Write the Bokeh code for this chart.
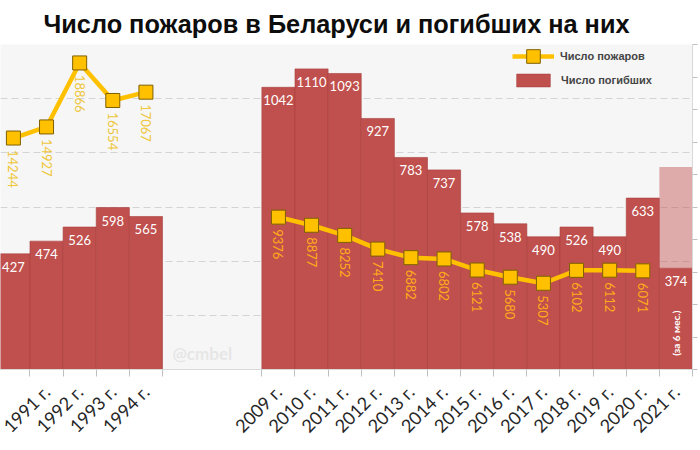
import math
from bokeh.plotting import figure
from bokeh.models import (ColumnDataSource, Range1d, FixedTicker, Legend,
                          LegendItem, Label, LinearAxis)
from bokeh.core.properties import value
from bokeh.embed import file_html
from bokeh.resources import INLINE

# ---------------- data ----------------
title_text = "Число пожаров в Беларуси и погибших на них"
legend_fires = "Число пожаров"
legend_deaths = "Число погибших"
watermark_text = "@cmbel"
year_suffix = " г."
partial_note = "(за 6 мес.)"

years_early = [1990, 1991, 1992, 1993, 1994]
deaths_early = [427, 474, 526, 598, 565]
fires_early = [14244, 14927, 18866, 16554, 17067]

years_late = [2009, 2010, 2011, 2012, 2013, 2014, 2015, 2016, 2017, 2018,
              2019, 2020, 2021]
deaths_late = [1042, 1110, 1093, 927, 783, 737, 578, 538, 490, 526, 490,
               633, 374]
fires_late = [9376, 8877, 8252, 7410, 6882, 6802, 6121, 5680, 5307, 6102,
              6112, 6071]          # 2021: no value
deaths_2021_full_estimate = [748]  # pale part of the 2021 bar

# ---------------- layout helpers ----------------
gap_slots = 3
x_early = list(range(len(years_early)))
x_late = [len(years_early) + gap_slots + i for i in range(len(years_late))]
x_all = x_early + x_late
years_all = years_early + years_late
deaths_all = deaths_early + deaths_late

RED = "#c0504d"
GOLD = "#ffc000"

p = figure(width=700, height=450, output_backend="svg", toolbar_location=None,
           x_range=Range1d(-0.39, x_late[-1] + 0.5), y_range=Range1d(0, 1200),
           min_border_left=0, min_border_right=8, min_border_top=43,
           min_border_bottom=81, background_fill_color="#f6f6f6",
           border_fill_color="white", outline_line_color=None)
p.extra_y_ranges = {"fires": Range1d(0, 20000)}

# title
p.title.text = title_text
p.title.text_font = "Liberation Sans"
p.title.text_font_style = "bold"
p.title.text_font_size = "25.3px"
p.title.text_color = "#0d0d0d"
p.title.align = "left"
p.title.offset = 43
p.title.standoff = 14

# grid
p.yaxis.visible = False
p.yaxis.ticker = FixedTicker(ticks=[0, 200, 400, 600, 800, 1000, 1200])
p.ygrid.grid_line_color = "#d4d4d4"
p.ygrid.grid_line_dash = "7 4"
p.xgrid.visible = False

# right axis (ticks only; its labels lie outside the picture)
r_ticks = list(range(0, 20001, 2000))
ax_r = LinearAxis(y_range_name="fires", ticker=FixedTicker(ticks=r_ticks))
ax_r.major_label_overrides = {t: "" for t in r_ticks}
ax_r.major_label_standoff = 0
ax_r.major_tick_out = 5
ax_r.major_tick_in = 0
ax_r.minor_tick_line_color = None
ax_r.major_tick_line_color = "#bfbfbf"
ax_r.axis_line_color = "#d9d9d9"
p.add_layout(ax_r, "right")

# x axis
boundaries = [x - 0.5 for x in x_early] + [x_early[-1] + 0.5] + \
             [x - 0.5 for x in x_late] + [x_late[-1] + 0.5]
p.xaxis.ticker = FixedTicker(ticks=x_all, minor_ticks=boundaries)
labels = {x: f"{y}{year_suffix}" for x, y in zip(x_all, years_all)}
labels[x_all[0]] = ""   # first label lies almost wholly outside the picture
p.xaxis.major_label_overrides = labels
p.xaxis.major_label_orientation = math.pi / 4
p.xaxis.major_tick_line_color = None
p.xaxis.major_tick_out = 0
p.xaxis.major_tick_in = 0
p.xaxis.minor_tick_out = 7
p.xaxis.minor_tick_in = 0
p.xaxis.minor_tick_line_color = "#bfbfbf"
p.xaxis.axis_line_color = "#d9d9d9"
p.xaxis.major_label_text_font = "Lato"
p.xaxis.major_label_text_font_size = "18px"
p.xaxis.major_label_text_color = "#262626"
p.xaxis.major_label_standoff = 12

# bars
bar_src = ColumnDataSource(dict(x=x_all, top=deaths_all,
                                label=[str(v) for v in deaths_all]))
bars = p.vbar(x="x", top="top", width=1.0, source=bar_src, fill_color=RED,
              line_color="#a8403d", line_alpha=0.6, line_width=1)
p.vbar(x=[x_late[-1]], bottom=[deaths_late[-1]], top=deaths_2021_full_estimate,
       width=1.0, fill_color=RED, fill_alpha=0.45, line_color=None)

p.text(x="x", y="top", text="label", source=bar_src, text_color="white",
       text_font=value("Lato"), text_font_size="13px", text_align="center",
       text_baseline="middle", y_offset=13)

p.text(x=[x_late[-1]], y=[deaths_late[-1]], text=[partial_note],
       text_color="white", text_font=value("Lato"), text_font_style="bold",
       text_font_size="10px", text_align="center", text_baseline="middle",
       angle=math.pi / 2, y_offset=65)

# fires lines
src_fe = ColumnDataSource(dict(x=x_early, y=fires_early,
                               label=[str(v) for v in fires_early]))
src_fl = ColumnDataSource(dict(x=x_late[:len(fires_late)], y=fires_late,
                               label=[str(v) for v in fires_late]))
for src, lab_col in ((src_fe, "#eec73c"), (src_fl, "#ffab1a")):
    ln = p.line(x="x", y="y", source=src, y_range_name="fires",
                line_color=GOLD, line_width=4.5)
    sc = p.scatter(x="x", y="y", source=src, y_range_name="fires",
                   marker="square", size=14, fill_color=GOLD,
                   line_color="#7f6000", line_width=1)
    p.text(x="x", y="y", text="label", source=src, y_range_name="fires",
           text_color=lab_col, text_font=value("Lato"), text_font_size="13px",
           text_align="left", text_baseline="middle", angle=-math.pi / 2,
           y_offset=12)

# legends
leg1 = Legend(items=[LegendItem(label=legend_fires, renderers=[ln, sc])],
              location=(512, 296), glyph_width=42, glyph_height=34,
              label_height=34, padding=0, margin=0, spacing=0,
              border_line_color=None, background_fill_alpha=0,
              label_text_font="Liberation Sans", label_text_font_style="bold",
              label_text_font_size="11px", label_standoff=6)
leg2 = Legend(items=[LegendItem(label=legend_deaths, renderers=[bars])],
              location=(512, 281), glyph_width=42, glyph_height=16,
              label_height=16, padding=0, margin=0, spacing=0,
              border_line_color=None, background_fill_alpha=0,
              label_text_font="Liberation Sans", label_text_font_style="bold",
              label_text_font_size="11px", label_standoff=7)
p.add_layout(leg1, "center")
p.add_layout(leg2, "center")

# watermark
p.add_layout(Label(x=172, y=16, x_units="screen", y_units="screen",
                   text=watermark_text, text_color="#e6e6e6",
                   text_font="Lato", text_font_style="bold",
                   text_font_size="17px", text_baseline="middle"))

open("out.html", "w").write(file_html(p, INLINE))
